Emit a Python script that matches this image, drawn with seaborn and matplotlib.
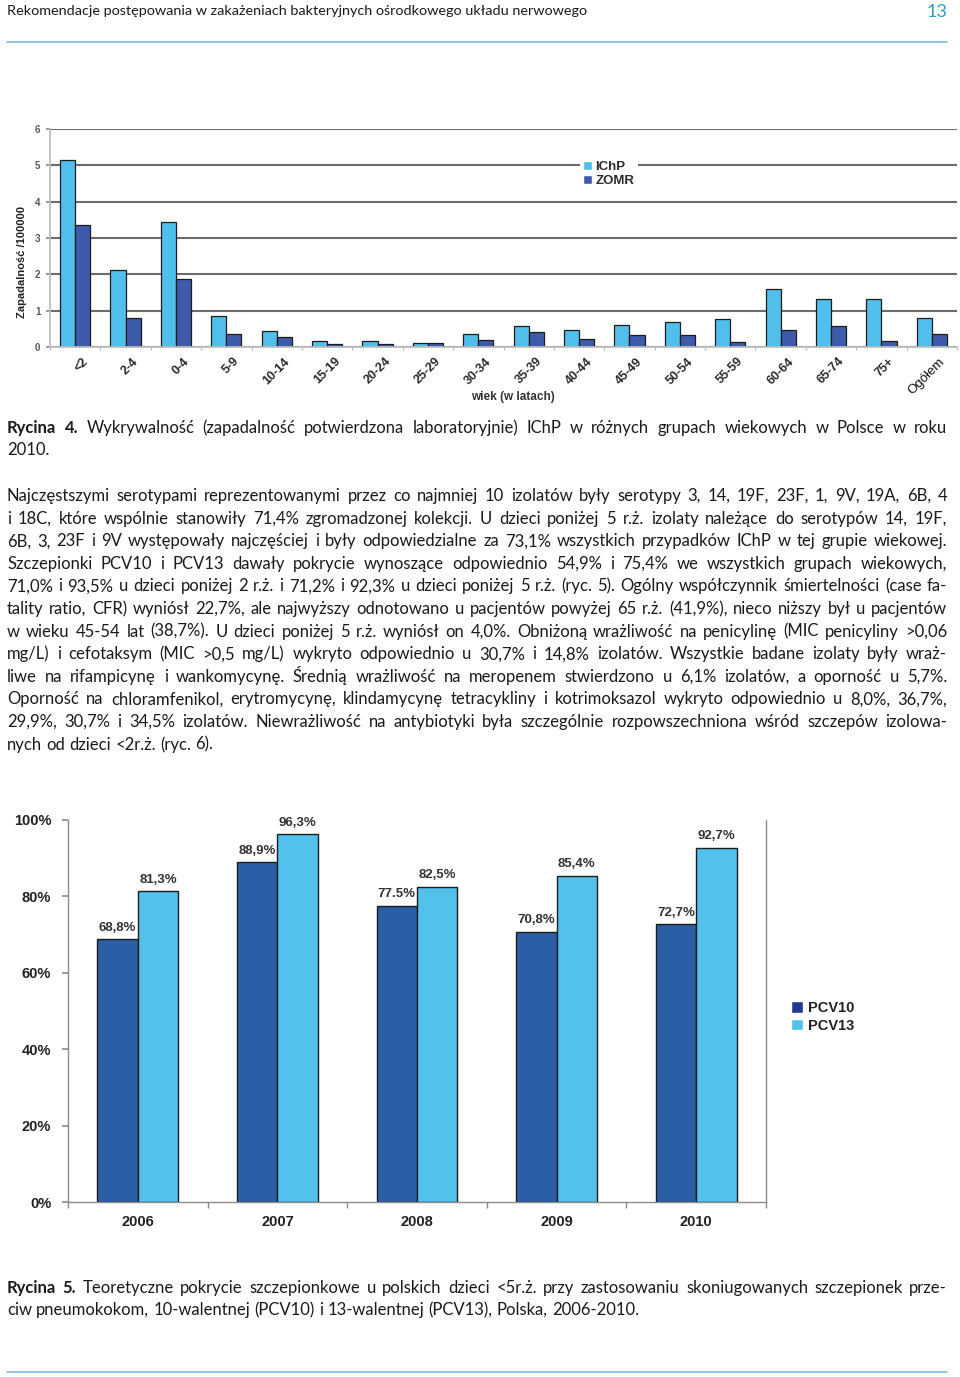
import matplotlib
matplotlib.use('Agg')
import matplotlib.pyplot as plt
import matplotlib.font_manager as fm
import matplotlib.transforms as mtransforms
from matplotlib.patches import Patch
from matplotlib.lines import Line2D
import numpy as np
import pandas as pd
import seaborn as sns

# Rycina 4 - incidence per 100000 by age group.
age_groups = ['<2', '2-4', '0-4', '5-9', '10-14', '15-19', '20-24', '25-29', '30-34',
              '35-39', '40-44', '45-49', '50-54', '55-59', '60-64', '65-74', '75+', 'Ogółem']
ichp = [5.16, 2.13, 3.44, 0.85, 0.44, 0.17, 0.17, 0.10, 0.36,
        0.58, 0.48, 0.60, 0.70, 0.77, 1.59, 1.33, 1.31, 0.79]
zomr = [3.37, 0.81, 1.88, 0.35, 0.28, 0.09, 0.07, 0.10, 0.20,
        0.40, 0.22, 0.33, 0.33, 0.14, 0.48, 0.57, 0.17, 0.35]

# Rycina 5 - vaccine coverage.
years = ['2006', '2007', '2008', '2009', '2010']
pcv10 = [68.8, 88.9, 77.5, 70.8, 72.7]
pcv13 = [81.3, 96.3, 82.5, 85.4, 92.7]
pcv10_labels = ['68,8%', '88,9%', '77.5%', '70,8%', '72,7%']
pcv13_labels = ['81,3%', '96,3%', '82,5%', '85,4%', '92,7%']
pct_ticks = [0, 20, 40, 60, 80, 100]

# Page text.
header = 'Rekomendacje postępowania w zakażeniach bakteryjnych ośrodkowego układu nerwowego'
page_no = '13'
caption4 = ['Rycina 4. Wykrywalność (zapadalność potwierdzona laboratoryjnie) IChP w różnych grupach wiekowych w Polsce w roku',
            '2010.']
body = ['Najczęstszymi serotypami reprezentowanymi przez co najmniej 10 izolatów były serotypy 3, 14, 19F, 23F, 1, 9V, 19A, 6B, 4',
        'i 18C, które wspólnie stanowiły 71,4% zgromadzonej kolekcji. U dzieci poniżej 5 r.ż. izolaty należące do serotypów 14, 19F,',
        '6B, 3, 23F i 9V występowały najczęściej i były odpowiedzialne za 73,1% wszystkich przypadków IChP w tej grupie wiekowej.',
        'Szczepionki PCV10 i PCV13 dawały pokrycie wynoszące odpowiednio 54,9% i 75,4% we wszystkich grupach wiekowych,',
        '71,0% i 93,5% u dzieci poniżej 2 r.ż. i 71,2% i 92,3% u dzieci poniżej 5 r.ż. (ryc. 5). Ogólny współczynnik śmiertelności (case fa-',
        'tality ratio, CFR) wyniósł 22,7%, ale najwyższy odnotowano u pacjentów powyżej 65 r.ż. (41,9%), nieco niższy był u pacjentów',
        'w wieku 45-54 lat (38,7%). U dzieci poniżej 5 r.ż. wyniósł on 4,0%. Obniżoną wrażliwość na penicylinę (MIC penicyliny >0,06',
        'mg/L) i cefotaksym (MIC >0,5 mg/L) wykryto odpowiednio u 30,7% i 14,8% izolatów. Wszystkie badane izolaty były wraż-',
        'liwe na rifampicynę i wankomycynę. Średnią wrażliwość na meropenem stwierdzono u 6,1% izolatów, a oporność u 5,7%.',
        'Oporność na chloramfenikol, erytromycynę, klindamycynę tetracykliny i kotrimoksazol wykryto odpowiednio u 8,0%, 36,7%,',
        '29,9%, 30,7% i 34,5% izolatów. Niewrażliwość na antybiotyki była szczególnie rozpowszechniona wśród szczepów izolowa-',
        'nych od dzieci <2r.ż. (ryc. 6).']
caption5 = ['Rycina 5. Teoretyczne pokrycie szczepionkowe u polskich dzieci <5r.ż. przy zastosowaniu skoniugowanych szczepionek prze-',
            'ciw pneumokokom, 10-walentnej (PCV10) i 13-walentnej (PCV13), Polska, 2006-2010.']

ICHP_C = '#50BFEB'
ZOMR_C = '#3D5BAA'
PCV10_C = '#2A5FA6'
PCV13_C = '#52C1EC'

sns.set_theme(style='white')
plt.rcParams['font.family'] = ['Liberation Sans', 'DejaVu Sans']

installed = {f.name for f in fm.fontManager.ttflist}
BODY_FONT = ['Lato', 'DejaVu Sans'] if 'Lato' in installed else ['Liberation Sans', 'DejaVu Sans']

W, H = 960, 1377
fig = plt.figure(figsize=(W / 100, H / 100), dpi=100)
renderer = fig.canvas.get_renderer()


def text_w(s, size, weight='normal'):
    t = fig.text(0, 0, s, fontsize=size, fontweight=weight, family=BODY_FONT)
    w = t.get_window_extent(renderer).width
    t.remove()
    return w


def put_line(y, line, size, justify, bold_words=0, left=7, right=947):
    words = line.split(' ')
    weights = ['bold' if i < bold_words else 'normal' for i in range(len(words))]
    widths = [text_w(w, size, wt) for w, wt in zip(words, weights)]
    if justify and len(words) > 1:
        gap = (right - left - sum(widths)) / (len(words) - 1)
    else:
        gap = text_w('a a', size) - text_w('aa', size)
    x = left
    for w, wt, wd in zip(words, weights, widths):
        fig.text(x / W, 1 - y / H, w, fontsize=size, fontweight=wt, family=BODY_FONT,
                 va='baseline', ha='left', color='#1a1a1a')
        x += wd + gap


# Fit the body font so the longest line fills the column.
base = 11
widest = max(text_w(l, base) for l in body[:-1] + caption4[:1] + caption5[:1])
body_size = min(12, base * 932 / widest)

# Header
head_size = 10 * 580 / text_w(header, 10)
fig.text(7 / W, 1 - 15 / H, header, fontsize=head_size, family=BODY_FONT, color='#1a1a1a', va='baseline')
fig.text(937 / W, 1 - 17 / H, page_no, fontsize=13, family=BODY_FONT, color='#2E9CC6', va='baseline', ha='center')
fig.add_artist(Line2D([7 / W, 947 / W], [1 - 42 / H, 1 - 42 / H], color='#74BFDC', lw=1.2))
fig.add_artist(Line2D([7 / W, 947 / W], [1 - 1372 / H, 1 - 1372 / H], color='#74BFDC', lw=1.2))

# ---- Chart 1 ----
ax1 = fig.add_axes([50 / W, 1 - 347 / H, 907 / W, 218 / H])
df1 = pd.DataFrame({'wiek': age_groups * 2,
                    'zapadalnosc': ichp + zomr,
                    'zrodlo': ['IChP'] * len(age_groups) + ['ZOMR'] * len(age_groups)})
sns.barplot(data=df1, x='wiek', y='zapadalnosc', hue='zrodlo', palette=[ICHP_C, ZOMR_C],
            width=0.6, edgecolor='#1c1c1c', linewidth=0.9, errorbar=None, legend=False,
            saturation=1, ax=ax1)
ax1.set_xlim(-0.5, len(age_groups) - 0.5)
ax1.set_ylim(0, 6)
ax1.set_yticks(range(7))
ax1.yaxis.grid(True, color='#6b6b6b', linewidth=1.5)
ax1.set_axisbelow(True)
ax1.set_xlabel('')
ax1.set_ylabel('')
for s in ['top', 'right']:
    ax1.spines[s].set_visible(False)
ax1.spines['left'].set_color('#bdbdbd')
ax1.spines['bottom'].set_color('#bdbdbd')
ax1.tick_params(axis='y', left=True, length=3, color='#888888', labelsize=7, labelcolor='#555555', pad=4)
for lab in ax1.get_yticklabels():
    lab.set_fontweight('bold')
ax1.set_xticks(range(len(age_groups)))
ax1.set_xticklabels(age_groups, rotation=45, ha='right', rotation_mode='anchor',
                    fontsize=9, fontweight='bold', color='#2a2a2a')
ax1.set_xticks(np.arange(-0.5, len(age_groups), 1), minor=True)
ax1.tick_params(axis='x', which='major', length=0, pad=6)
ax1.tick_params(axis='x', which='minor', bottom=True, length=2, color='#bdbdbd')
shift = mtransforms.ScaledTranslation(5 / 72, 0, fig.dpi_scale_trans)
for lab in ax1.get_xticklabels():
    lab.set_transform(lab.get_transform() + shift)
ogolem = ax1.get_xticklabels()[-1]
ogolem.set_fontweight('normal')
ogolem.set_color('#111111')
ogolem.set_fontsize(9.5)

fig.legend(handles=[Patch(facecolor=ICHP_C), Patch(facecolor=ZOMR_C)], labels=['IChP', 'ZOMR'],
           loc='upper left', bbox_to_anchor=(573 / W, 1 - 151 / H), frameon=True,
           facecolor='white', edgecolor='none', framealpha=1, fancybox=False,
           prop={'size': 9.5, 'weight': 'bold'}, handlelength=0.7, handleheight=0.7,
           handletextpad=0.25, labelspacing=0.15, borderpad=0.25, labelcolor='#2a2a2a')
fig.text(22 / W, 1 - 262 / H, 'Zapadalność /100000', rotation=90, ha='center', va='center',
         fontsize=8, fontweight='bold', color='#222222')
fig.text(513 / W, 1 - 397 / H, 'wiek (w latach)', ha='center', va='center',
         fontsize=8.5, fontweight='bold', color='#333333')

# ---- Captions and body text ----
put_line(433, caption4[0], body_size, True, bold_words=2)
put_line(455, caption4[1], body_size, False)
y0 = 501
for i, line in enumerate(body):
    put_line(y0 + i * 22.6, line, body_size, i < len(body) - 1)
put_line(1293, caption5[0], body_size, True, bold_words=2)
put_line(1315, caption5[1], body_size, False)

# ---- Chart 2 ----
ax2 = fig.add_axes([68 / W, 1 - 1202 / H, 698 / W, 382 / H])
df2 = pd.DataFrame({'rok': years * 2,
                    'pokrycie': pcv10 + pcv13,
                    'szczepionka': ['PCV10'] * len(years) + ['PCV13'] * len(years)})
sns.barplot(data=df2, x='rok', y='pokrycie', hue='szczepionka', palette=[PCV10_C, PCV13_C],
            width=0.58, edgecolor='#1c1c1c', linewidth=1.0, errorbar=None, legend=False,
            saturation=1, ax=ax2)
ax2.set_xlim(-0.5, len(years) - 0.5)
ax2.set_ylim(0, 100)
ax2.set_yticks(pct_ticks)
ax2.set_yticklabels([f'{v}%' for v in pct_ticks], fontsize=10.5, fontweight='bold', color='#222222')
ax2.set_xlabel('')
ax2.set_ylabel('')
ax2.spines['top'].set_visible(False)
for s in ['left', 'right', 'bottom']:
    ax2.spines[s].set_color('#8c8c8c')
    ax2.spines[s].set_linewidth(1.0)
ax2.tick_params(axis='y', left=True, length=4, color='#8c8c8c', pad=8)
ax2.set_xticks(range(len(years)))
ax2.set_xticklabels(years, fontsize=10.5, fontweight='bold', color='#222222')
ax2.set_xticks(np.arange(-0.5, len(years), 1), minor=True)
ax2.tick_params(axis='x', which='major', length=0, pad=9)
ax2.tick_params(axis='x', which='minor', bottom=True, length=4, color='#8c8c8c')
for cont, labs in zip(ax2.containers, [pcv10_labels, pcv13_labels]):
    ax2.bar_label(cont, labels=labs, padding=4, fontsize=9.5, fontweight='bold', color='#333333')

fig.legend(handles=[Patch(facecolor='#22398F'), Patch(facecolor=PCV13_C)], labels=['PCV10', 'PCV13'],
           loc='upper left', bbox_to_anchor=(778 / W, 1 - 988 / H), frameon=False,
           prop={'size': 10.5, 'weight': 'bold'}, handlelength=0.8, handleheight=0.8,
           handletextpad=0.35, labelspacing=0.25, labelcolor='#222222')

fig.savefig('out.png', dpi=100)
